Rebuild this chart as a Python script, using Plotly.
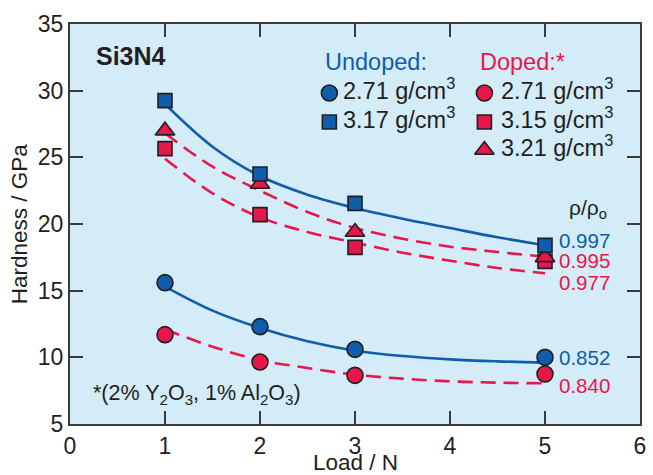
import plotly.graph_objects as go

# ---------------- data ----------------
loads = [1, 2, 3, 5]
undoped_271 = [15.6, 12.3, 10.6, 10.0]
undoped_317 = [29.25, 23.75, 21.55, 18.4]
doped_271 = [11.7, 9.65, 8.65, 8.75]
doped_315 = [25.65, 20.7, 18.25, 17.2]
doped_321 = [27.0, 23.0, 19.4, 17.5]

# fitted curves
curve_x = [1, 1.5, 2, 2.5, 3, 3.5, 4, 4.5, 5]
fit_undoped_317 = [29.0, 25.8, 23.6, 22.2, 21.2, 20.4, 19.7, 19.0, 18.4]
fit_doped_321 = [26.8, 24.3, 22.5, 20.9, 19.7, 18.9, 18.3, 17.9, 17.55]
fit_doped_315 = [24.9, 22.3, 20.5, 19.4, 18.6, 17.85, 17.25, 16.7, 16.3]
fit_undoped_271 = [15.3, 13.5, 12.2, 11.2, 10.5, 10.1, 9.85, 9.7, 9.6]
fit_doped_271 = [12.1, 10.8, 9.8, 9.2, 8.7, 8.4, 8.2, 8.1, 8.05]

ratio_labels = ["0.997", "0.995", "0.977", "0.852", "0.840"]
ratio_y = [18.8, 17.3, 15.65, 10.0, 7.9]
ratio_colors = ["blue", "red", "red", "blue", "red"]

x_ticks = [0, 1, 2, 3, 4, 5, 6]
y_ticks = [5, 10, 15, 20, 25, 30, 35]

BLUE = "#0f5dab"
RED = "#e8174b"
EDGE = "#231f20"
TXT = "#231f20"
FONT = "Liberation Sans, Arial, sans-serif"

fig = go.Figure()

# curves
for ys, col, dash in [
    (fit_undoped_317, BLUE, "solid"),
    (fit_doped_321, RED, "15px,8px"),
    (fit_doped_315, RED, "15px,8px"),
    (fit_undoped_271, BLUE, "solid"),
    (fit_doped_271, RED, "15px,8px"),
]:
    fig.add_trace(go.Scatter(x=curve_x, y=ys, mode="lines", line_shape="spline",
                             line=dict(color=col, width=2.6, dash=dash),
                             showlegend=False, hoverinfo="skip"))

# data markers
def mk(sym, col, size):
    return dict(symbol=sym, color=col, size=size, line=dict(color=EDGE, width=1.6))

series = [
    (doped_315, mk("square", RED, 14)),
    (doped_321, mk("triangle-up", RED, 17)),
    (undoped_317, mk("square", BLUE, 14)),
    (undoped_271, mk("circle", BLUE, 16)),
    (doped_271, mk("circle", RED, 16)),
]
for ys, m in series:
    fig.add_trace(go.Scatter(x=loads, y=ys, mode="markers", marker=m, showlegend=False))

# legend keys on a helper axis (paper-like units)
key_x = [0.455, 0.455, 0.727, 0.727, 0.727]
key_y = [0.8275, 0.755, 0.8275, 0.755, 0.685]
key_m = [mk("circle", BLUE, 16), mk("square", BLUE, 14), mk("circle", RED, 16),
         mk("square", RED, 14), mk("triangle-up", RED, 17)]
for kx, ky, m in zip(key_x, key_y, key_m):
    fig.add_trace(go.Scatter(x=[kx], y=[ky], xaxis="x2", yaxis="y2", mode="markers",
                             marker=m, showlegend=False, hoverinfo="skip"))

ann = []
def A(x, y, text, col=TXT, size=22, xref="paper", yref="paper", xanchor="left",
      bold=False, angle=0):
    if bold:
        text = "<b>" + text + "</b>"
    ann.append(dict(x=x, y=y, xref=xref, yref=yref, text=text, showarrow=False,
                    xanchor=xanchor, yanchor="middle", textangle=angle,
                    font=dict(family=FONT, size=size, color=col)))

A(0.042, 0.92, "Si3N4", size=25, bold=True)
A(0.443, 0.905, "Undoped:", col=BLUE, size=23.5)
A(0.716, 0.905, "Doped:*", col=RED, size=23.5)
leg_text = ["2.71 g/cm<sup>3</sup>", "3.17 g/cm<sup>3</sup>", "2.71 g/cm<sup>3</sup>",
            "3.15 g/cm<sup>3</sup>", "3.21 g/cm<sup>3</sup>"]
text_x = [0.475, 0.475, 0.752, 0.752, 0.752]
for tx, ky, t in zip(text_x, key_y, leg_text):
    A(tx, ky + 0.01, t, size=23.5)

A(5.45, 21.1, "ρ/ρ<sub>o</sub>", size=21, xref="x", yref="y", xanchor="center")
for lab, yy, c in zip(ratio_labels, ratio_y, ratio_colors):
    A(5.13, yy, lab, col=BLUE if c == "blue" else RED, size=20.5, xref="x", yref="y")

A(0.036, 0.075, "*(2% Y<sub>2</sub>O<sub>3</sub>, 1% Al<sub>2</sub>O<sub>3</sub>)", size=21.5)

# axis titles
A(0.5, -0.097, "Load / N", size=22.5, xanchor="center")
A(-0.089, 0.5, "Hardness / GPa", size=22.5, xanchor="center", angle=-90)

axis_common = dict(showline=True, linecolor="#3a3a3a", linewidth=2, mirror="ticks",
                   ticks="inside", ticklen=13, tickwidth=1.5, tickcolor="#3a3a3a",
                   showgrid=False, zeroline=False, automargin=False,
                   tickfont=dict(family=FONT, size=23, color=TXT))

fig.update_layout(
    width=653, height=475,
    margin=dict(l=70, r=13, t=24, b=51),
    paper_bgcolor="white", plot_bgcolor="#d4ecf8",
    annotations=ann,
    xaxis=dict(range=[0, 6], tickvals=x_ticks, **axis_common),
    yaxis=dict(range=[5, 35], tickvals=y_ticks, **axis_common),
    xaxis2=dict(range=[0, 1], overlaying="x", visible=False),
    yaxis2=dict(range=[0, 1], overlaying="y", visible=False),
    showlegend=False,
)

fig.write_html("out.html")
